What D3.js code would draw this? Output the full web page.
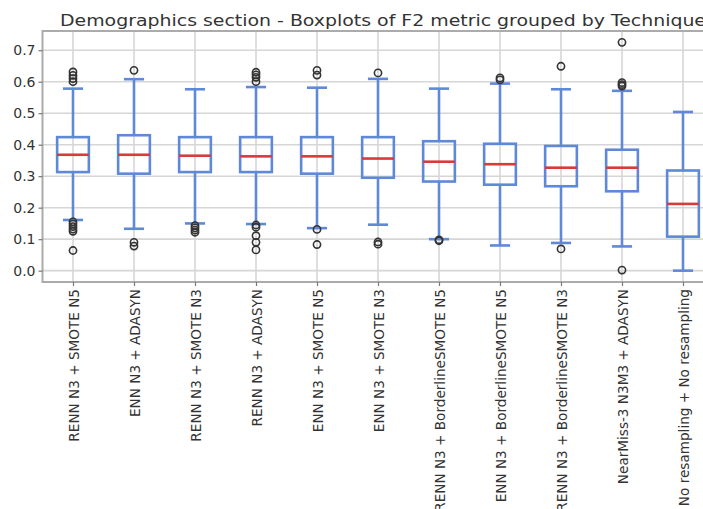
<!DOCTYPE html>
<html>
<head>
<meta charset="utf-8">
<script src="https://cdn.jsdelivr.net/npm/d3@7/dist/d3.min.js"></script>
<style>
  html, body { margin: 0; padding: 0; background: #fff; overflow: hidden; }
  svg { display: block; font-family: "DejaVu Sans", sans-serif; }
</style>
</head>
<body>
<svg id="chart" width="703" height="509"></svg>
<script>
const title = "Demographics section - Boxplots of F2 metric grouped by Technique";
const techniques = [
  "RENN N3 + SMOTE N5",
  "ENN N3 + ADASYN",
  "RENN N3 + SMOTE N3",
  "RENN N3 + ADASYN",
  "ENN N3 + SMOTE N5",
  "ENN N3 + SMOTE N3",
  "RENN N3 + BorderlineSMOTE N5",
  "ENN N3 + BorderlineSMOTE N5",
  "RENN N3 + BorderlineSMOTE N3",
  "NearMiss-3 N3M3 + ADASYN",
  "No resampling + No resampling"
];
const q1 =          [0.313, 0.308, 0.313, 0.313, 0.308, 0.295, 0.283, 0.273, 0.268, 0.252, 0.108];
const medians =     [0.368, 0.368, 0.365, 0.363, 0.363, 0.356, 0.346, 0.338, 0.327, 0.327, 0.212];
const q3 =          [0.424, 0.430, 0.424, 0.424, 0.424, 0.424, 0.411, 0.403, 0.396, 0.384, 0.318];
const whiskerLow =  [0.161, 0.133, 0.150, 0.148, 0.135, 0.146, 0.100, 0.080, 0.088, 0.077, 0.000];
const whiskerHigh = [0.578, 0.608, 0.576, 0.583, 0.581, 0.609, 0.578, 0.594, 0.576, 0.571, 0.504];
const outliers = [
  [0.631, 0.620, 0.610, 0.600, 0.155, 0.148, 0.140, 0.132, 0.125, 0.064],
  [0.636, 0.090, 0.078],
  [0.143, 0.136, 0.129, 0.122],
  [0.630, 0.622, 0.614, 0.600, 0.145, 0.138, 0.111, 0.090, 0.066],
  [0.636, 0.621, 0.131, 0.083],
  [0.628, 0.091, 0.084],
  [0.095, 0.098],
  [0.612, 0.606],
  [0.649, 0.069],
  [0.725, 0.597, 0.591, 0.586, 0.002],
  []
];
const yTicks = [0.0, 0.1, 0.2, 0.3, 0.4, 0.5, 0.6, 0.7];

const svg = d3.select("#chart");
const W = 703, H = 509;
const plot = { left: 42.5, right: 713.5, top: 31, bottom: 282 };

const x = d3.scaleLinear().domain([0.5, techniques.length + 0.5]).range([plot.left, plot.right]);
const y = d3.scaleLinear().domain([-0.036, 0.761]).range([plot.bottom, plot.top]);

const boxColor = "#5f89d8";
const medColor = "#d93a3a";
const gridColor = "#d6d6d6";
const spineColor = "#ababab";
const textColor = "#333";

svg.append("rect").attr("width", W).attr("height", H).attr("fill", "#fff");

// grid
const grid = svg.append("g");
grid.selectAll("line.hg").data(yTicks).join("line")
  .attr("x1", plot.left).attr("x2", plot.right)
  .attr("y1", d => y(d)).attr("y2", d => y(d))
  .attr("stroke", gridColor).attr("stroke-width", 1.6);
grid.selectAll("line.vg").data(techniques).join("line")
  .attr("x1", (d, i) => x(i + 1)).attr("x2", (d, i) => x(i + 1))
  .attr("y1", plot.top).attr("y2", plot.bottom)
  .attr("stroke", gridColor).attr("stroke-width", 1.6);

// spines
svg.append("rect")
  .attr("x", plot.left).attr("y", plot.top)
  .attr("width", plot.right - plot.left).attr("height", plot.bottom - plot.top)
  .attr("fill", "none").attr("stroke", spineColor).attr("stroke-width", 2);

// y axis
const yAxis = d3.axisLeft(y).tickValues(yTicks).tickFormat(d3.format(".1f")).tickSize(4).tickPadding(3);
const gy = svg.append("g").attr("transform", `translate(${plot.left},0)`).call(yAxis);
gy.select(".domain").remove();
gy.selectAll(".tick line").attr("stroke", "#777").attr("stroke-width", 1.2);
gy.selectAll(".tick text").attr("fill", textColor).style("font-size", "14px")
  .style("font-family", "DejaVu Sans, sans-serif");

// x axis
const xAxis = d3.axisBottom(x).tickValues(d3.range(1, techniques.length + 1))
  .tickFormat(d => techniques[d - 1]).tickSize(4).tickPadding(3);
const gx = svg.append("g").attr("transform", `translate(0,${plot.bottom})`).call(xAxis);
gx.select(".domain").remove();
gx.selectAll(".tick line").attr("stroke", "#777").attr("stroke-width", 1.2);
gx.selectAll(".tick text")
  .attr("fill", textColor)
  .style("font-size", "13.6px")
  .style("font-family", "DejaVu Sans, sans-serif")
  .attr("text-anchor", "end")
  .attr("transform", "rotate(-90)")
  .attr("x", -7).attr("y", 0).attr("dy", "0.38em");

// boxes
const boxHalf = (x(2) - x(1)) * 0.26;
const capHalf = (x(2) - x(1)) * 0.165;
const boxes = svg.append("g");
techniques.forEach((t, i) => {
  const cx = x(i + 1);
  const g = boxes.append("g");
  g.append("line").attr("x1", cx).attr("x2", cx).attr("y1", y(q3[i])).attr("y2", y(whiskerHigh[i]))
    .attr("stroke", boxColor).attr("stroke-width", 2.6);
  g.append("line").attr("x1", cx).attr("x2", cx).attr("y1", y(q1[i])).attr("y2", y(whiskerLow[i]))
    .attr("stroke", boxColor).attr("stroke-width", 2.6);
  [whiskerHigh[i], whiskerLow[i]].forEach(v => {
    g.append("line").attr("x1", cx - capHalf).attr("x2", cx + capHalf).attr("y1", y(v)).attr("y2", y(v))
      .attr("stroke", boxColor).attr("stroke-width", 2.6);
  });
  g.append("rect").attr("x", cx - boxHalf).attr("width", 2 * boxHalf)
    .attr("y", y(q3[i])).attr("height", y(q1[i]) - y(q3[i]))
    .attr("fill", "none").attr("stroke", boxColor).attr("stroke-width", 2.6);
  g.append("line").attr("x1", cx - boxHalf).attr("x2", cx + boxHalf).attr("y1", y(medians[i])).attr("y2", y(medians[i]))
    .attr("stroke", medColor).attr("stroke-width", 2.6);
  g.selectAll("circle").data(outliers[i]).join("circle")
    .attr("cx", cx).attr("cy", d => y(d)).attr("r", 3.6)
    .attr("fill", "none").attr("stroke", "#333").attr("stroke-width", 1.6);
});

// title
svg.append("text").attr("x", 60).attr("y", 26)
  .attr("text-anchor", "start").attr("fill", textColor)
  .attr("textLength", 646).attr("lengthAdjust", "spacingAndGlyphs")
  .style("font-size", "16px").style("font-family", "DejaVu Sans, sans-serif")
  .text(title);
</script>
</body>
</html>
